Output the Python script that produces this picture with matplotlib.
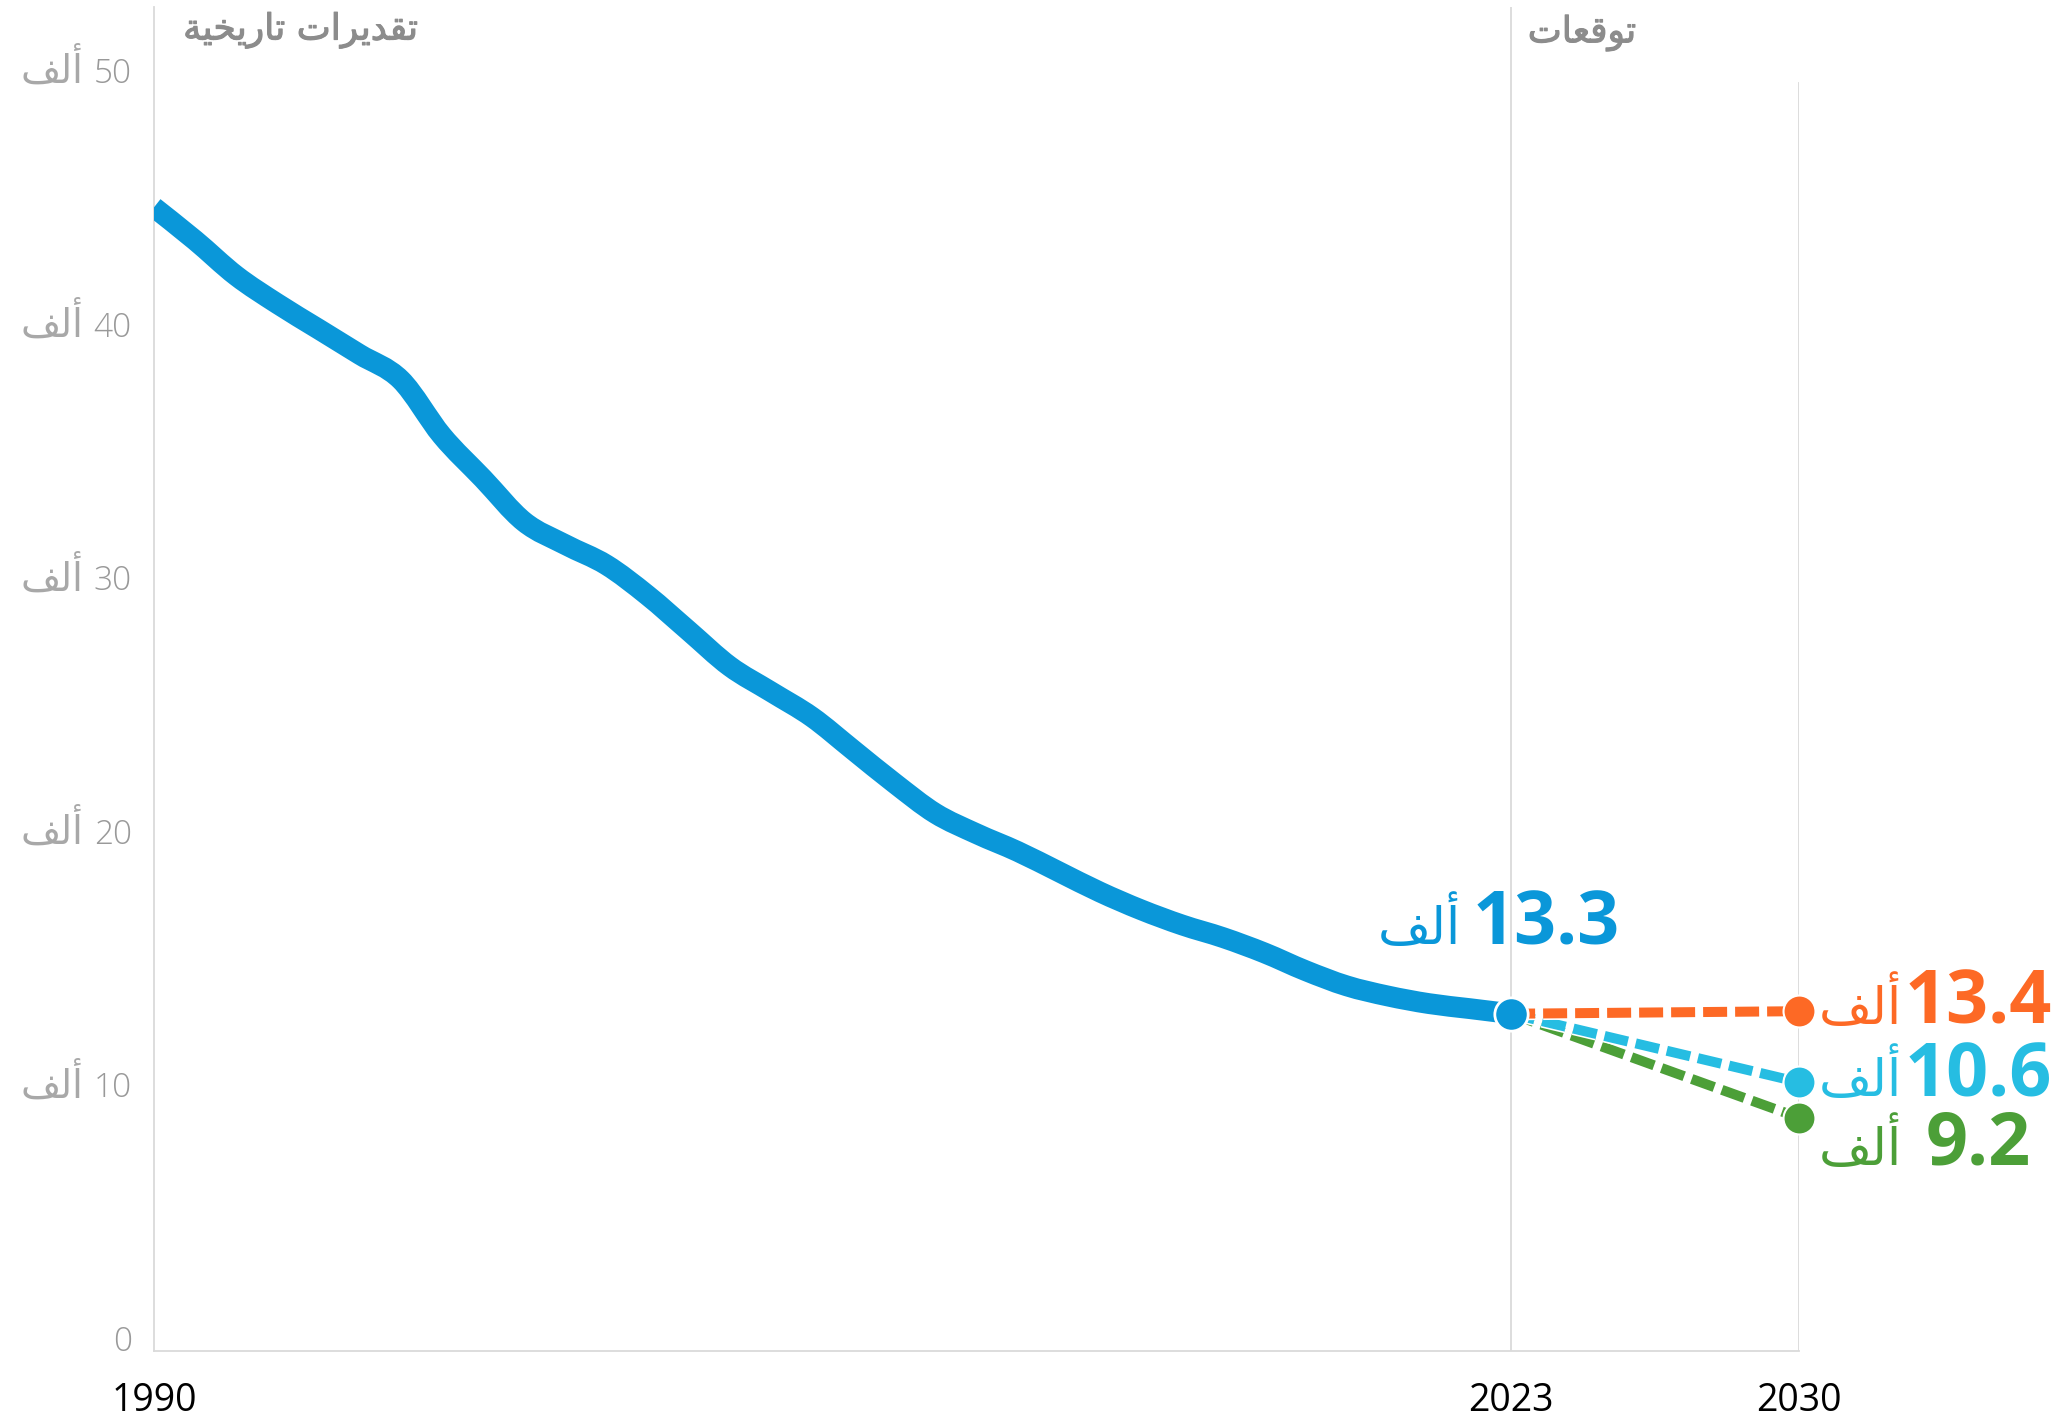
import matplotlib

matplotlib.use("Agg")
import matplotlib.pyplot as plt
import matplotlib.patheffects as pe
import matplotlib.transforms as mtrans
from matplotlib.path import Path
from matplotlib.patches import PathPatch

# --- data (thousands) ---
YEARS = list(range(1990, 2024))
HISTORY = [45.1, 43.8, 42.4, 41.3, 40.3, 39.3, 38.3, 36.1, 34.4, 32.7,
           31.8, 31.0, 29.8, 28.4, 27.0, 26.0, 25.0, 23.7, 22.4, 21.2,
           20.4, 19.7, 18.9, 18.1, 17.4, 16.8, 16.3, 15.7, 15.0, 14.4,
           14.0, 13.7, 13.5, 13.3]
LAST_YEAR = 2023
LAST_VALUE = 13.3
TARGET_YEAR = 2030
PROJ_VALUES = [13.4, 10.6, 9.2]
PROJ_COLORS = ["#FD6925", "#26BDE2", "#4C9F38"]
Y_TICKS = [0, 10, 20, 30, 40, 50]
X_TICKS = [1990, 2023, 2030]

UNIT = "ألف"
HDR_HIST = "تقديرات تاريخية"
HDR_PROJ = "توقعات"

BLUE = "#0A97D9"
GRID = "#DADADA"
MUTED = "#999999"
HDR = "#8C8C8C"

# --- minimal Arabic shaping: matplotlib has no bidi/joining, so map letters to
# presentation forms (iso, final, initial, medial) and reverse for display ---
FORMS = {
    "أ": ("\uFE83", "\uFE84", None, None),
    "ا": ("\uFE8D", "\uFE8E", None, None),
    "ة": ("\uFE93", "\uFE94", None, None),
    "ت": ("\uFE95", "\uFE96", "\uFE97", "\uFE98"),
    "خ": ("\uFEA5", "\uFEA6", "\uFEA7", "\uFEA8"),
    "د": ("\uFEA9", "\uFEAA", None, None),
    "ر": ("\uFEAD", "\uFEAE", None, None),
    "ع": ("\uFEC9", "\uFECA", "\uFECB", "\uFECC"),
    "ف": ("\uFED1", "\uFED2", "\uFED3", "\uFED4"),
    "ق": ("\uFED5", "\uFED6", "\uFED7", "\uFED8"),
    "ل": ("\uFEDD", "\uFEDE", "\uFEDF", "\uFEE0"),
    "و": ("\uFEED", "\uFEEE", None, None),
    "ي": ("\uFEF1", "\uFEF2", "\uFEF3", "\uFEF4"),
}


def ar(text):
    out = []
    for i, ch in enumerate(text):
        if ch not in FORMS:
            out.append(ch)
            continue
        prev = text[i - 1] if i > 0 else ""
        nxt = text[i + 1] if i + 1 < len(text) else ""
        j_prev = prev in FORMS and FORMS[prev][2] is not None
        j_next = FORMS[ch][2] is not None and nxt in FORMS
        iso, fin, ini, med = FORMS[ch]
        if j_prev and j_next:
            out.append(med)
        elif j_prev:
            out.append(fin)
        elif j_next:
            out.append(ini)
        else:
            out.append(iso)
    return "".join(out[::-1])


def smooth_path(xs, ys):
    """Catmull-Rom curve through the points, as cubic Bezier segments."""
    pts = list(zip(xs, ys))
    verts = [pts[0]]
    codes = [Path.MOVETO]
    n = len(pts)
    for i in range(n - 1):
        p0 = pts[max(i - 1, 0)]
        p1 = pts[i]
        p2 = pts[i + 1]
        p3 = pts[min(i + 2, n - 1)]
        c1 = (p1[0] + (p2[0] - p0[0]) / 6, p1[1] + (p2[1] - p0[1]) / 6)
        c2 = (p2[0] - (p3[0] - p1[0]) / 6, p2[1] - (p3[1] - p1[1]) / 6)
        verts += [c1, c2, p2]
        codes += [Path.CURVE4] * 3
    return Path(verts, codes)


NUM_FONT = ["Open Sans", "DejaVu Sans"]
AR_FONT = ["DejaVu Sans"]

fig = plt.figure(figsize=(20.57, 14.23), dpi=100)
ax = fig.add_axes([154 / 2057, 1 - 1351 / 1423, (1799 - 154) / 2057, (1351 - 7) / 1423])
ax.set_xlim(1990, 2030)
ax.set_ylim(0, 53)

for s in ["top", "right"]:
    ax.spines[s].set_visible(False)
for s in ["left", "bottom"]:
    ax.spines[s].set_color(GRID)
    ax.spines[s].set_linewidth(1.3)
ax.axvline(LAST_YEAR, color=GRID, lw=1.3, zorder=0)
ax.axvline(TARGET_YEAR, ymax=50 / 53, color=GRID, lw=1.3, zorder=0)

# history
hist = PathPatch(smooth_path(YEARS, HISTORY), fill=False, edgecolor=BLUE, lw=15,
                 capstyle="butt", joinstyle="round", zorder=3)
ax.add_patch(hist)

# projections (green under cyan under orange)
white = [pe.Stroke(linewidth=9.5, foreground="white"), pe.Normal()]
for v, c, z in zip(PROJ_VALUES[::-1], PROJ_COLORS[::-1], [4, 5, 6]):
    ax.plot([LAST_YEAR, TARGET_YEAR], [LAST_VALUE, v], color=c, lw=7.2,
            dashes=(2.4, 0.8), dash_capstyle="butt", zorder=z, path_effects=white)
    ax.plot([TARGET_YEAR], [v], "o", color=c, ms=23, mec="white", mew=1.5,
            zorder=z + 3, clip_on=False)
ax.plot([LAST_YEAR], [LAST_VALUE], "o", color=BLUE, ms=24, mec="white", mew=2,
        zorder=10, clip_on=False)

# ticks
ax.set_xticks(X_TICKS)
ax.set_xticklabels([str(x) for x in X_TICKS], fontsize=27, family=NUM_FONT,
                   color="black")
ax.tick_params(axis="x", length=0, pad=22)
ax.set_yticks([])
for t in Y_TICKS:
    ax.annotate(str(t), xy=(1990, t), xytext=(-16, 0), textcoords="offset points",
                ha="right", va="baseline", fontsize=24, color=MUTED,
                family=NUM_FONT, fontweight="light", annotation_clip=False)
    if t:
        ax.annotate(ar(UNIT), xy=(1990, t), xytext=(-51, 0), textcoords="offset points",
                    ha="right", va="baseline", fontsize=28, color="#A8A8A8",
                    family=AR_FONT, annotation_clip=False)

# headers
top = mtrans.blended_transform_factory(ax.transData, ax.transAxes)
hdr_fx = [pe.withStroke(linewidth=0.8, foreground=HDR)]
ax.text(1990, 1, ar(HDR_HIST), transform=top + mtrans.ScaledTranslation(21 / 72, -4 / 72, fig.dpi_scale_trans),
        ha="left", va="top", fontsize=26, color=HDR, family=AR_FONT, path_effects=hdr_fx)
ax.text(LAST_YEAR, 1, ar(HDR_PROJ), transform=top + mtrans.ScaledTranslation(12 / 72, -6 / 72, fig.dpi_scale_trans),
        ha="left", va="top", fontsize=26, color=HDR, family=AR_FONT, path_effects=hdr_fx)


def value_label(x, y, value, color, dx, dy, num_dx):
    ax.annotate(ar(UNIT), xy=(x, y), xytext=(dx, dy), textcoords="offset points",
                ha="left", va="baseline", fontsize=37, color=color, family=AR_FONT,
                annotation_clip=False)
    ax.annotate(f"{value:.1f}", xy=(x, y), xytext=(dx + num_dx, dy),
                textcoords="offset points", ha="left", va="baseline",
                fontsize=53, color=color, family=NUM_FONT, fontweight="bold",
                annotation_clip=False)


value_label(LAST_YEAR, LAST_VALUE, LAST_VALUE, BLUE, -96, 50, 68)
label_dy = [-9, -10, -34]
for v, c, dy in zip(PROJ_VALUES, PROJ_COLORS, label_dy):
    num_dx = 62 if v >= 10 else 77
    value_label(TARGET_YEAR, v, v, c, 14, dy, num_dx)

fig.savefig("out.png", dpi=100, facecolor="white")
